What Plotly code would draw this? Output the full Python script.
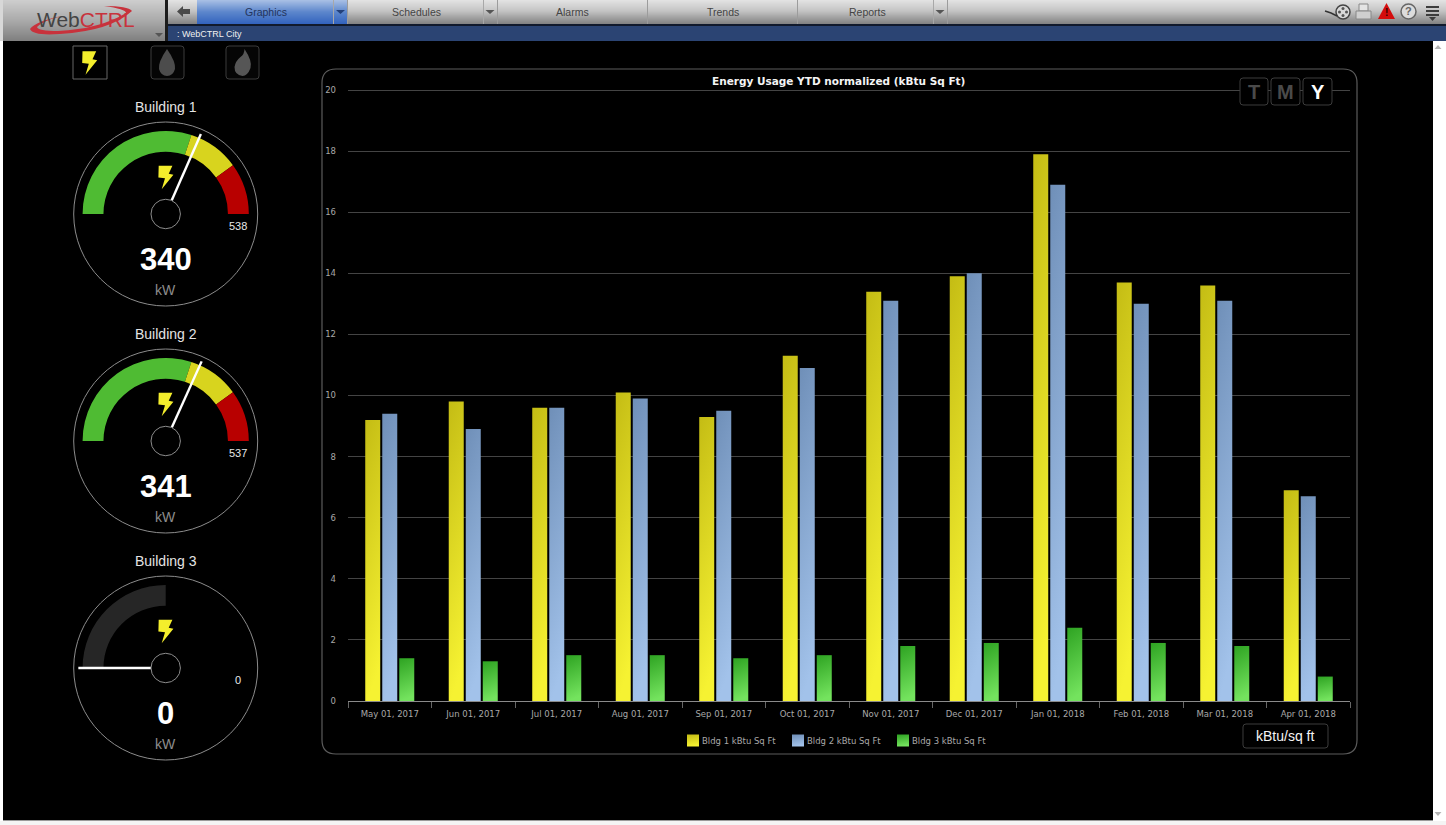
"""
WebCTRL energy dashboard: three building gauges and the normalized YTD bar chart.
"""
import plotly.graph_objects as go

W, H = 1446, 825

months = ["May 01, 2017", "Jun 01, 2017", "Jul 01, 2017", "Aug 01, 2017",
          "Sep 01, 2017", "Oct 01, 2017", "Nov 01, 2017", "Dec 01, 2017",
          "Jan 01, 2018", "Feb 01, 2018", "Mar 01, 2018", "Apr 01, 2018"]
bldg1 = [9.2, 9.8, 9.6, 10.1, 9.3, 11.3, 13.4, 13.9, 17.9, 13.7, 13.6, 6.9]
bldg2 = [9.4, 8.9, 9.6, 9.9, 9.5, 10.9, 13.1, 14.0, 16.9, 13.0, 13.1, 6.7]
bldg3 = [1.4, 1.3, 1.5, 1.5, 1.4, 1.5, 1.8, 1.9, 2.4, 1.9, 1.8, 0.8]
series_names = ["Bldg 1 kBtu Sq Ft", "Bldg 2 kBtu Sq Ft", "Bldg 3 kBtu Sq Ft"]

gauge_names = ["Building 1", "Building 2", "Building 3"]
gauge_values = [340, 341, 0]
gauge_maxes = [538, 537, 0]
band_stops = [0, 0.6, 0.8, 1.0]
band_colors = ["#4fbb33", "#d8d41e", "#b80000"]
idle_stops = [0, 0.5]
idle_color = "#262626"

nav_labels = ["Graphics", "Schedules", "Alarms", "Trends", "Reports"]

FONT = "DejaVu Sans"
ARIAL = "Liberation Sans"
GAUGE_X = 165.7
GAUGE_Y = [214, 441, 668]
GAUGE_R = 92


def xp(x):
    return x / W


def yp(y):
    return 1 - y / H


def rect(x0, y0, x1, y1, fill, line=None, layer="below", width=1):
    return dict(type="rect", xref="paper", yref="paper", layer=layer,
                x0=xp(x0), x1=xp(x1), y0=yp(y0), y1=yp(y1), fillcolor=fill,
                line=dict(color=line, width=width) if line else dict(width=0))


def path(points, fill=None, line=None, width=1, layer="above", closed=True):
    d = "M" + " L".join(f"{xp(x):.5f},{yp(y):.5f}" for x, y in points)
    return raw_path(d + (" Z" if closed else ""), fill, line, width, layer)


def raw_path(d, fill=None, line=None, width=1, layer="above"):
    return dict(type="path", xref="paper", yref="paper", layer=layer, path=d,
                fillcolor=fill or "rgba(0,0,0,0)",
                line=dict(color=line, width=width) if line else dict(width=0))


def rounded(x0, y0, x1, y1, r, fill=None, line=None, width=1, layer="above"):
    P = lambda x, y: f"{xp(x):.5f},{yp(y):.5f}"
    d = (f"M{P(x0 + r, y0)} L{P(x1 - r, y0)} Q{P(x1, y0)} {P(x1, y0 + r)} "
         f"L{P(x1, y1 - r)} Q{P(x1, y1)} {P(x1 - r, y1)} L{P(x0 + r, y1)} "
         f"Q{P(x0, y1)} {P(x0, y1 - r)} L{P(x0, y0 + r)} Q{P(x0, y0)} {P(x0 + r, y0)} Z")
    return raw_path(d, fill, line, width, layer)


def label(x, y, text, size, color, family=FONT, anchor="center", bold=False):
    return dict(xref="paper", yref="paper", x=xp(x), y=yp(y), text=text,
                showarrow=False, xanchor=anchor, yanchor="middle",
                font=dict(family=family, size=size, color=color,
                          weight="bold" if bold else "normal"))


def mix(stops, t):
    for (t0, c0), (t1, c1) in zip(stops, stops[1:]):
        if t <= t1:
            f = (t - t0) / (t1 - t0)
            rgb = [round(c0[i] + (c1[i] - c0[i]) * f) for i in range(3)]
            return f"rgb({rgb[0]},{rgb[1]},{rgb[2]})"
    return f"rgb{stops[-1][1]}"


def strips(x0, x1, y0, y1, stops):
    n = y1 - y0
    return [rect(x0, y0 + i, x1, y0 + i + 1, mix(stops, i / (n - 1))) for i in range(n)]


def bolt(cx, cy, s=1.0, fill="#f4ee2c"):
    pts = [(-7, -11.7), (6.7, -11.7), (3, -3.7), (7.7, -2.7), (-4, 11.7), (-0.7, 0.7), (-7.3, 0)]
    return path([(cx + a * s, cy + b * s) for a, b in pts], fill=fill)


def drop(cx, cy, fill):
    P = lambda x, y: f"{xp(cx + x):.5f},{yp(cy + y):.5f}"
    d = (f"M{P(0, -15)} Q{P(9, -2)} {P(8, 5)} Q{P(6, 12)} {P(0, 12)} "
         f"Q{P(-6, 12)} {P(-8, 5)} Q{P(-9, -2)} {P(0, -15)} Z")
    return raw_path(d, fill)


def flame(cx, cy, fill):
    P = lambda x, y: f"{xp(cx + x):.5f},{yp(cy + y):.5f}"
    d = (f"M{P(2, -15)} Q{P(10, -3)} {P(8, 4)} Q{P(5, 12)} {P(0, 12)} "
         f"Q{P(-8, 11)} {P(-8, 3)} Q{P(-7, -3)} {P(-2, -7)} Q{P(2, -10)} {P(2, -15)} Z")
    return raw_path(d, fill)


def angle(frac):
    return 180 - frac * 180


fig = go.Figure()

# bars, coloured with gradients after the plot is drawn
for name, vals, color in zip(series_names, [bldg1, bldg2, bldg3], ["#e0dc20", "#8aaad4", "#4cc040"]):
    fig.add_trace(go.Bar(x=months, y=vals, name=name, marker=dict(color=color, line=dict(width=0))))

# gauges on polar subplots
polar_layouts = {}
for i, (val, top) in enumerate(zip(gauge_values, gauge_maxes)):
    sub = "polar" if i == 0 else f"polar{i + 1}"
    stops = band_stops if top else idle_stops
    colors = band_colors if top else [idle_color]
    fracs = list(zip(stops, stops[1:]))
    fig.add_trace(go.Barpolar(
        subplot=sub, showlegend=False, hoverinfo="skip",
        theta=[angle((a + b) / 2) for a, b in fracs],
        width=[(b - a) * 180 for a, b in fracs],
        base=[0.615] * len(fracs), r=[0.27] * len(fracs),
        marker=dict(color=colors, line=dict(width=0)),
    ))
    needle = angle(val / top) if top else angle(0)
    fig.add_trace(go.Scatterpolar(
        subplot=sub, showlegend=False, hoverinfo="skip", mode="lines",
        theta=[needle, needle], r=[0, 0.94], line=dict(color="#ffffff", width=2.4),
    ))
    cy = GAUGE_Y[i]
    polar_layouts[sub] = dict(
        domain=dict(x=[xp(GAUGE_X - GAUGE_R), xp(GAUGE_X + GAUGE_R)],
                    y=[yp(cy + GAUGE_R), yp(cy - GAUGE_R)]),
        bgcolor="rgba(0,0,0,0)", hole=0.16, barmode="overlay",
        radialaxis=dict(range=[0, 1], visible=False),
        angularaxis=dict(showticklabels=False, ticks="", showgrid=False,
                         showline=True, linecolor="#8c8c8c", linewidth=1),
    )

NAV_STOPS = [(0, (226, 226, 226)), (0.45, (196, 196, 196)), (1, (132, 132, 132))]
BLUE_STOPS = [(0, (166, 190, 228)), (0.5, (92, 134, 204)), (1, (52, 100, 190))]
LOGO_STOPS = [(0, (205, 205, 205)), (0.5, (170, 170, 170)), (1, (128, 128, 128))]

shapes = []
shapes += strips(168, W, 0, 24, NAV_STOPS)
shapes += strips(197, 347, 0, 24, BLUE_STOPS)
shapes += strips(3, 165, 0, 41, LOGO_STOPS)
shapes.append(rect(0, 0, 3, 41, "#d8d8d8"))
shapes.append(rect(165, 0, 168, 41, "#1c1c1c"))
shapes.append(rect(168, 24, W, 26, "#111a2c"))
shapes.append(rect(168, 26, W, 41, "#2b4473"))
shapes.append(rect(0, 41, 3, H, "#ffffff"))
shapes.append(rect(1433, 41, W, H, "#ffffff"))
shapes.append(rect(0, 821, W, H, "#f4f4f4"))
shapes.append(rect(3, 820, 1433, 821, "#9a9a9a"))
for x in [347, 497, 647, 797, 947]:
    shapes.append(rect(x, 0, x + 1, 24, "#9c9c9c"))
for x in [333, 483, 933]:
    shapes.append(rect(x, 0, x + 1, 24, "#a8a8a8"))
shapes.append(path([(336, 10), (345, 10), (340.5, 14)], fill="#23407a"))
for x in [485.5, 935.5]:
    shapes.append(path([(x, 10), (x + 9, 10), (x + 4.5, 14)], fill="#555555"))
shapes.append(path([(155, 33), (163, 33), (159, 37)], fill="#555555"))
shapes.append(path([(177, 11.5), (183, 6), (183, 9), (190, 9), (190, 14), (183, 14), (183, 17)], fill="#4a4a4a"))

# logo swoosh
P = lambda x, y: f"{xp(x):.5f},{yp(y):.5f}"
shapes.append(raw_path(
    f"M{P(62, 16)} Q{P(36, 21)} {P(30, 29)} Q{P(33, 36)} {P(60, 34)} Q{P(110, 31)} {P(132, 11)} "
    f"Q{P(128, 6)} {P(104, 6)} Q{P(126, 9)} {P(126, 13)} Q{P(100, 29)} {P(58, 31)} Q{P(38, 31)} {P(37, 27)} Q{P(42, 21)} {P(62, 16)} Z",
    fill="#c8323c"))

# right side toolbar icons
shapes.append(dict(type="circle", xref="paper", yref="paper", layer="above", x0=xp(1336), x1=xp(1350),
                   y0=yp(19), y1=yp(5), fillcolor="#d8d8d8", line=dict(color="#444444", width=1.5)))
for cx, cy in [(1343, 8.5), (1343, 15.5), (1339.5, 12), (1346.5, 12)]:
    shapes.append(dict(type="circle", xref="paper", yref="paper", layer="above", x0=xp(cx - 1.5), x1=xp(cx + 1.5),
                       y0=yp(cy + 1.5), y1=yp(cy - 1.5), fillcolor="#555555", line=dict(width=0)))
shapes.append(path([(1325, 11), (1331, 13), (1337, 16)], line="#333333", width=1.5, closed=False))
shapes.append(rect(1359, 4, 1368, 11, "#e4e4e4", "#888888", "above"))
shapes.append(rect(1356, 11, 1371, 19, "#cfcfcf", "#888888", "above"))
shapes.append(path([(1386.5, 3), (1395, 19), (1378, 19)], fill="#d40c0c"))
shapes.append(dict(type="circle", xref="paper", yref="paper", layer="above", x0=xp(1401), x1=xp(1416),
                   y0=yp(19), y1=yp(4), fillcolor="#dcdcdc", line=dict(color="#666666", width=1.5)))
for y in [6, 10, 14]:
    shapes.append(rect(1426, y, 1439, y + 2, "#3c3c3c", layer="above"))
shapes.append(path([(1429, 17), (1436, 17), (1432.5, 21)], fill="#3c3c3c"))

# scrollbar arrows
shapes.append(path([(1434.5, 49), (1441.5, 49), (1438, 45)], fill="#b4b4b4"))
shapes.append(path([(1434.5, 812), (1441.5, 812), (1438, 816)], fill="#b4b4b4"))

# selector icons
shapes.append(rect(73, 46, 107, 79, "#000000", "#666666"))
shapes.append(bolt(89.5, 63, 1.0))
shapes.append(rounded(151, 46, 184, 79, 3, "#050505", "#3c3c3c", layer="below"))
shapes.append(drop(167, 64, "#4c4c4c"))
shapes.append(rounded(226, 46, 259, 79, 3, "#050505", "#3c3c3c", layer="below"))
shapes.append(flame(242.5, 64, "#565656"))

# gauge bolts
for cy in GAUGE_Y:
    shapes.append(bolt(GAUGE_X, cy - 36.5, 1.0))

# chart panel, top grid line (plotly drops the one on the axis end) and buttons
shapes.append(rounded(322, 69, 1357, 754, 14, None, "#5c5c5c", 1.2, "below"))
shapes.append(rect(348, 90, 1350, 91, "#444444"))
for x0, x1 in [(1240, 1268), (1271, 1300), (1303, 1332)]:
    shapes.append(rounded(x0, 78, x1, 105, 3, "#000000", "#3c3c3c"))
shapes.append(rounded(1243, 724, 1328, 748, 3, "#000000", "#3c3c3c"))

annotations = [
    label(86, 19, '<span style="color:#444444">Web</span><span style="color:#c8323c">CTRL</span>', 21, "#444444", ARIAL),
    label(175, 34, ": WebCTRL City", 9, "#f0f0f0", ARIAL, anchor="left"),
    label(266, 12, nav_labels[0], 10.5, "#24345c", ARIAL),
    label(417, 12, nav_labels[1], 10.5, "#444444", ARIAL),
    label(572, 12, nav_labels[2], 10.5, "#444444", ARIAL),
    label(723, 12, nav_labels[3], 10.5, "#444444", ARIAL),
    label(867, 12, nav_labels[4], 10.5, "#444444", ARIAL),
    label(1408.5, 11.5, "?", 11, "#666666", ARIAL, bold=True),
    label(1386.5, 13, "!", 10, "#300000", ARIAL, bold=True),
    label(838, 81, "Energy Usage YTD normalized (kBtu Sq Ft)", 10.5, "#f4f4f4", FONT, bold=True),
    label(1254, 92, "T", 20, "#4a4a4a", ARIAL, bold=True),
    label(1285.5, 92, "M", 20, "#4a4a4a", ARIAL, bold=True),
    label(1317.5, 92, "Y", 20, "#ffffff", ARIAL, bold=True),
    label(1285, 736, "kBtu/sq ft", 14, "#f4f4f4", ARIAL),
]
for i, (name, val, top) in enumerate(zip(gauge_names, gauge_values, gauge_maxes)):
    cy = GAUGE_Y[i]
    annotations += [
        label(GAUGE_X, cy - 107, name, 14, "#e4e4e4", ARIAL),
        label(GAUGE_X, cy + 45, str(val), 31, "#ffffff", ARIAL, bold=True),
        label(GAUGE_X, cy + 76, "kW", 14, "#8c8c8c", ARIAL),
        label(238, cy + 12, str(top), 11, "#e8e8e8", ARIAL),
    ]

fig.update_layout(
    width=W, height=H,
    margin=dict(l=0, r=0, t=0, b=0, autoexpand=False),
    paper_bgcolor="#000000",
    plot_bgcolor="rgba(0,0,0,0)",
    barmode="group", bargap=0.389, bargroupgap=0.118,
    showlegend=True,
    legend=dict(orientation="h", x=xp(673), y=yp(726), xanchor="left", yanchor="top",
                entrywidth=60, entrywidthmode="pixels", bgcolor="rgba(0,0,0,0)",
                font=dict(family=FONT, size=8.5, color="#a8a8a8")),
    xaxis=dict(domain=[xp(348), xp(1350)], tickson="boundaries", ticks="outside", ticklen=6,
               tickcolor="#666666", showline=True, linecolor="#8a8a8a", showgrid=False,
               ticklabelstandoff=5, tickangle=0, tickfont=dict(family=FONT, size=8.5, color="#a8a8a8")),
    yaxis=dict(domain=[yp(701), yp(90)], range=[0, 20], dtick=2, gridcolor="#444444", gridwidth=1,
               zeroline=False, showline=False, ticks="", ticklabelstandoff=11,
               tickfont=dict(family=FONT, size=8.5, color="#a8a8a8")),
    shapes=shapes,
    annotations=annotations,
    **polar_layouts,
)

# plotly bars have no gradient fill, so add the svg gradients once drawn
post_script = """
document.body.style.margin = '0';
document.body.style.overflow = 'hidden';
var gd = document.getElementById('{plot_id}');
var NS = 'http://www.w3.org/2000/svg';
var defs = gd.querySelector('svg.main-svg defs');
var grads = [['#c4bc14', '#f6f232'], ['#6f8fb8', '#a2c2ea'], ['#2ea322', '#74e35e']];
grads.forEach(function (g, i) {
  var lg = document.createElementNS(NS, 'linearGradient');
  lg.setAttribute('id', 'bargrad' + i);
  lg.setAttribute('x1', '0'); lg.setAttribute('y1', '0');
  lg.setAttribute('x2', '0.15'); lg.setAttribute('y2', '1');
  g.forEach(function (c, j) {
    var s = document.createElementNS(NS, 'stop');
    s.setAttribute('offset', j ? '1' : '0');
    s.setAttribute('stop-color', c);
    lg.appendChild(s);
  });
  defs.appendChild(lg);
});
gd.querySelectorAll('.cartesianlayer .barlayer .trace').forEach(function (t, i) {
  t.querySelectorAll('path').forEach(function (p) { p.style.fill = 'url(#bargrad' + i + ')'; });
});
gd.querySelectorAll('.legend .traces').forEach(function (t, i) {
  t.querySelectorAll('.legendpoints path').forEach(function (p) { p.style.fill = 'url(#bargrad' + i + ')'; });
  t.querySelectorAll('.legendtext').forEach(function (x) { x.setAttribute('x', '29'); });
});
"""

fig.write_html("out.html", post_script=post_script, config=dict(displayModeBar=False))
